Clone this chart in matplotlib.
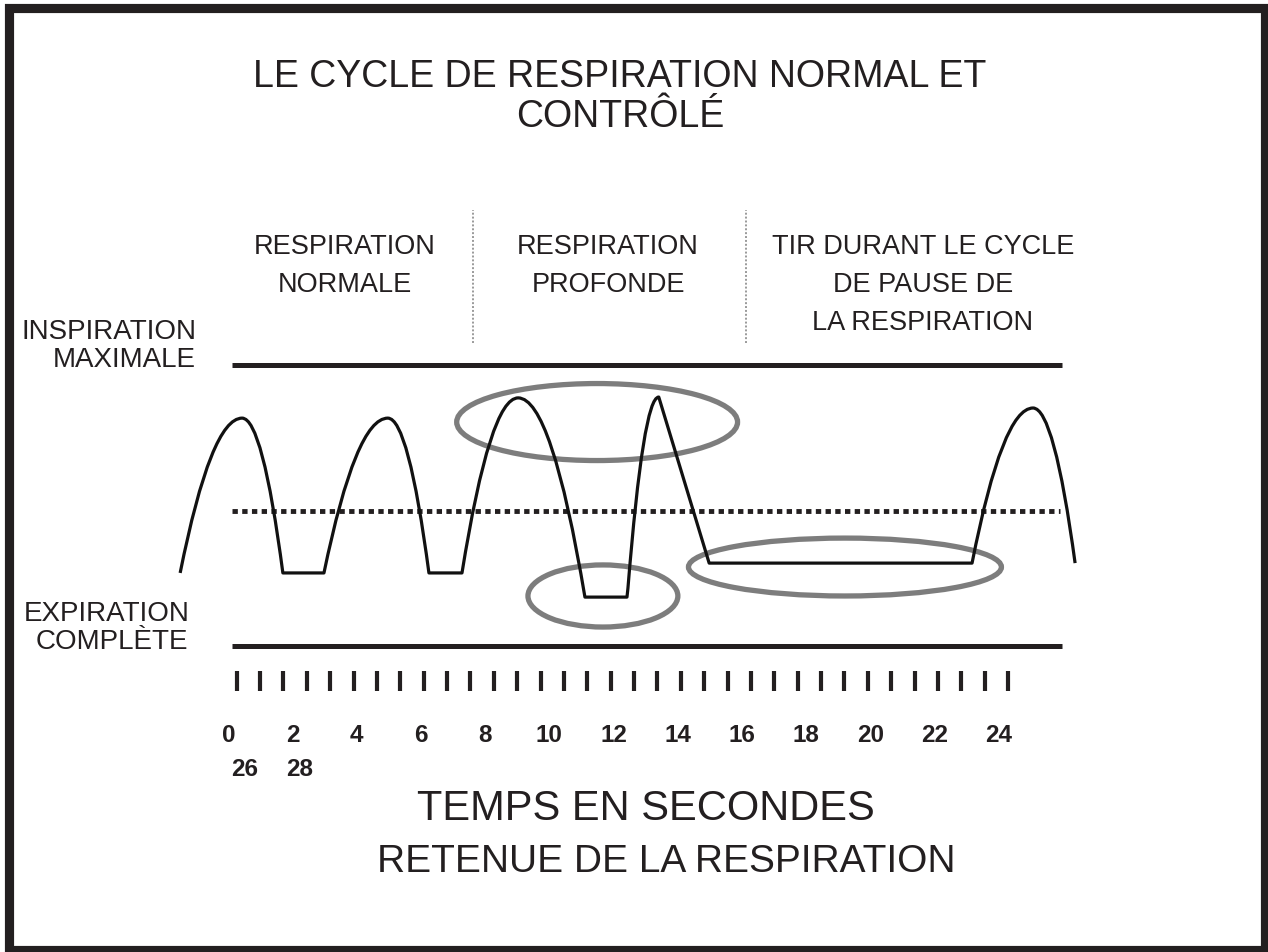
import matplotlib
matplotlib.use("Agg")
import matplotlib.pyplot as plt
import numpy as np
from matplotlib.patches import Ellipse, PathPatch, Rectangle
from matplotlib.path import Path

W, H = 1268, 952
INK = "#231f20"
GREY = "#7d7d7d"

# breathing trace: time (s), lung level (0 = expiration complete, 1 = inspiration max)
curve_t = [-1.50, 0.43, 1.70, 2.98, 4.97, 6.25, 7.28, 9.03, 11.11, 12.42, 12.45, 13.41, 14.98, 23.17, 25.07, 26.38]
curve_level = [0.26, 0.811, 0.26, 0.26, 0.811, 0.26, 0.26, 0.883, 0.174, 0.174, 0.206, 0.886, 0.295, 0.295, 0.847, 0.295]
# how each point is reached from the previous one
curve_seg = ["start", "rise", "fall", "line", "rise", "fall", "line", "rise", "fall",
             "line", "line", "rise", "line", "line", "rise", "fall"]

level_max = 1.0
level_min = 0.0
level_mid = 0.48
span_t = [0.12, 25.97]

# highlighted zones: centre time, centre level, width (s), height (level)
zone_t = [11.49, 11.67, 19.21]
zone_level = [0.797, 0.178, 0.281]
zone_w = [8.75, 4.67, 9.75]
zone_h = [0.274, 0.221, 0.206]

phase_edges = [7.62, 16.13]
phase_labels = [["RESPIRATION", "NORMALE"],
                ["RESPIRATION", "PROFONDE"],
                ["TIR DURANT LE CYCLE", "DE PAUSE DE", "LA RESPIRATION"]]
phase_x = [345, 608, 923]

n_ticks = 34
tick_first, tick_last = 0.26, 24.29
sec_labels = [0, 2, 4, 6, 8, 10, 12, 14, 16, 18, 20, 22, 24]
sec_labels_wrap = ["26", "28"]


def fx(px):
    return px / W


def fy(py):
    return 1 - py / H


fig = plt.figure(figsize=(W / 100, H / 100), dpi=100)
ax = fig.add_axes([0, 0, 1, 1])
ax.set_xlim(-228.3 / 32.1, (W - 228.3) / 32.1)
ax.set_ylim((646 - H) / 281, 646 / 281)
ax.axis("off")

# outer frame
fig.patches.append(Rectangle((fx(8.5), fy(950)), fx(1265) - fx(8.5), fy(7.5) - fy(950),
                             transform=fig.transFigure, fill=False, edgecolor=INK, linewidth=6.6))

# reference levels
ax.plot(span_t, [level_max] * 2, color=INK, lw=3.6, solid_capstyle="butt")
ax.plot(span_t, [level_min] * 2, color=INK, lw=3.6, solid_capstyle="butt")
ax.plot([span_t[0], 25.91], [level_mid] * 2, color=INK, lw=3.5, linestyle=(0, (1.1, 0.9)))

# phase separators
for xe in phase_edges:
    ax.plot([xe, xe], [1.078, 1.552], color="#9a9a9a", lw=1.4, linestyle=(0, (1, 1)))

# zones
for t, lv, w, h in zip(zone_t, zone_level, zone_w, zone_h):
    ax.add_patch(Ellipse((t, lv), w, h, fill=False, edgecolor=GREY, lw=3.8, zorder=2))

# breathing trace as a path of straight runs and half-parabola arcs
verts, codes = [], []
for i, (t, lv, kind) in enumerate(zip(curve_t, curve_level, curve_seg)):
    if kind == "start":
        verts.append((t, lv))
        codes.append(Path.MOVETO)
    elif kind == "line":
        verts.append((t, lv))
        codes.append(Path.LINETO)
    else:
        t0, l0 = curve_t[i - 1], curve_level[i - 1]
        ctrl = ((t0 + t) / 2, lv if kind == "rise" else l0)
        verts += [ctrl, (t, lv)]
        codes += [Path.CURVE3, Path.CURVE3]
ax.add_patch(PathPatch(Path(verts, codes), fill=False, edgecolor="#111111", lw=2.3,
                       joinstyle="round", capstyle="butt", zorder=3))

# time ticks
ticks = np.linspace(tick_first, tick_last, n_ticks)
ax.vlines(ticks, -0.160, -0.089, color=INK, lw=3.0)

num_font = dict(family=["Liberation Sans", "DejaVu Sans"], fontweight="bold",
                fontsize=17.5, color=INK)
for v in sec_labels:
    ax.text(v, (646 - 742) / 281, str(v), ha="center", va="baseline", **num_font)
for lab, px in zip(sec_labels_wrap, [245, 300]):
    fig.text(fx(px), fy(776), lab, ha="center", va="baseline", **num_font)

# titles and labels
title_font = dict(family=["Liberation Sans", "DejaVu Sans"], fontsize=27, color=INK)
fig.text(fx(620), fy(87), "LE CYCLE DE RESPIRATION NORMAL ET", ha="center", va="baseline", **title_font)
fig.text(fx(620), fy(127), "CONTRÔLÉ", ha="center", va="baseline", **title_font)

lab_font = dict(family=["Liberation Sans", "DejaVu Sans"], fontsize=19.5, color=INK)
for lines, px in zip(phase_labels, phase_x):
    for k, line in enumerate(lines):
        fig.text(fx(px), fy(254 + 38 * k), line, ha="center", va="baseline", **lab_font)

side_font = dict(family=["Liberation Sans", "DejaVu Sans"], fontsize=20, color=INK)
fig.text(fx(196), fy(339), "INSPIRATION", ha="right", va="baseline", **side_font)
fig.text(fx(196), fy(367), "MAXIMALE", ha="right", va="baseline", **side_font)
fig.text(fx(190), fy(621), "EXPIRATION", ha="right", va="baseline", **side_font)
fig.text(fx(188), fy(649), "COMPLÈTE", ha="right", va="baseline", **side_font)

axis_font = dict(family=["Liberation Sans", "DejaVu Sans"], color=INK)
fig.text(fx(646), fy(820), "TEMPS EN SECONDES", ha="center", va="baseline", fontsize=30, **axis_font)
fig.text(fx(666), fy(872), "RETENUE DE LA RESPIRATION", ha="center", va="baseline", fontsize=28, **axis_font)

fig.savefig("out.png", dpi=100, facecolor="white")
